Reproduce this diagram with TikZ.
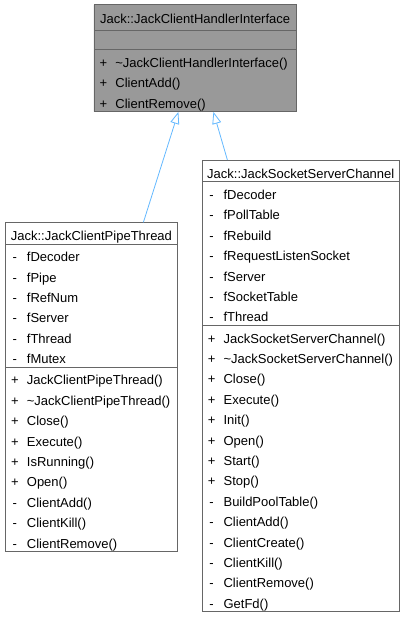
\documentclass[tikz,border=0pt]{standalone}
\usepackage{fontspec}
\setmainfont{Liberation Sans}
\usetikzlibrary{shapes.multipart, arrows.meta}
\definecolor{basegrey}{HTML}{999999}
\definecolor{boxline}{HTML}{666666}
\definecolor{inheritblue}{HTML}{63B8FF}

\newcommand{\rowstrut}{\rule[-3pt]{0pt}{20.4pt}}
\newcommand{\mbr}[2]{\rowstrut\makebox[10pt][c]{#1}\hspace{7pt}#2}

\begin{document}
\begin{tikzpicture}[
    x=1pt, y=-1pt,
    cls/.style={
        rectangle split, rectangle split parts=3,
        rectangle split part align={center,left,left},
        draw=boxline, line width=0.8pt, fill=#1,
        inner xsep=4.5pt, inner ysep=0pt, anchor=north west,
        font=\fontsize{13}{20.4}\selectfont, align=left,
    },
    cls/.default=white,
    inh/.style={-{Triangle[open, length=12pt, width=9pt]}, line width=0.8pt, color=inheritblue},
]
\useasboundingbox (0,0) rectangle (405,618);

% ════════════════════════════════════════
% Base class
% ════════════════════════════════════════
\node[cls=basegrey, minimum width=202.5pt] (iface) at (93.5, 4.5) {%
    \rule[-6pt]{0pt}{24.5pt}Jack::JackClientHandlerInterface
    \nodepart{two}\rule{0pt}{18.5pt}
    \nodepart{three}\mbr{+}{\textasciitilde JackClientHandlerInterface()}\\
    \mbr{+}{ClientAdd()}\\
    \mbr{+}{ClientRemove()}};

% ════════════════════════════════════════
% Pipe thread
% ════════════════════════════════════════
\node[cls, minimum width=172pt] (pipe) at (5, 222.3) {%
    \rowstrut Jack::JackClientPipeThread
    \nodepart{two}\mbr{-}{fDecoder}\\
    \mbr{-}{fPipe}\\
    \mbr{-}{fRefNum}\\
    \mbr{-}{fServer}\\
    \mbr{-}{fThread}\\
    \mbr{-}{fMutex}
    \nodepart{three}\mbr{+}{JackClientPipeThread()}\\
    \mbr{+}{\textasciitilde JackClientPipeThread()}\\
    \mbr{+}{Close()}\\
    \mbr{+}{Execute()}\\
    \mbr{+}{IsRunning()}\\
    \mbr{+}{Open()}\\
    \mbr{-}{ClientAdd()}\\
    \mbr{-}{ClientKill()}\\
    \mbr{-}{ClientRemove()}};

% ════════════════════════════════════════
% Socket server channel
% ════════════════════════════════════════
\node[cls, minimum width=197.3pt] (socket) at (201.7, 160) {%
    \rowstrut Jack::JackSocketServerChannel
    \nodepart{two}\mbr{-}{fDecoder}\\
    \mbr{-}{fPollTable}\\
    \mbr{-}{fRebuild}\\
    \mbr{-}{fRequestListenSocket}\\
    \mbr{-}{fServer}\\
    \mbr{-}{fSocketTable}\\
    \mbr{-}{fThread}
    \nodepart{three}\mbr{+}{JackSocketServerChannel()}\\
    \mbr{+}{\textasciitilde JackSocketServerChannel()}\\
    \mbr{+}{Close()}\\
    \mbr{+}{Execute()}\\
    \mbr{+}{Init()}\\
    \mbr{+}{Open()}\\
    \mbr{+}{Start()}\\
    \mbr{+}{Stop()}\\
    \mbr{-}{BuildPoolTable()}\\
    \mbr{-}{ClientAdd()}\\
    \mbr{-}{ClientCreate()}\\
    \mbr{-}{ClientKill()}\\
    \mbr{-}{ClientRemove()}\\
    \mbr{-}{GetFd()}};

% ════════════════════════════════════════
% Inheritance
% ════════════════════════════════════════
\draw[inh] ([xshift=52pt]pipe.north) -- ([xshift=-16.75pt]iface.south);
\draw[inh] ([xshift=-73.35pt]socket.north) -- ([xshift=18.25pt]iface.south);

\end{tikzpicture}
\end{document}
